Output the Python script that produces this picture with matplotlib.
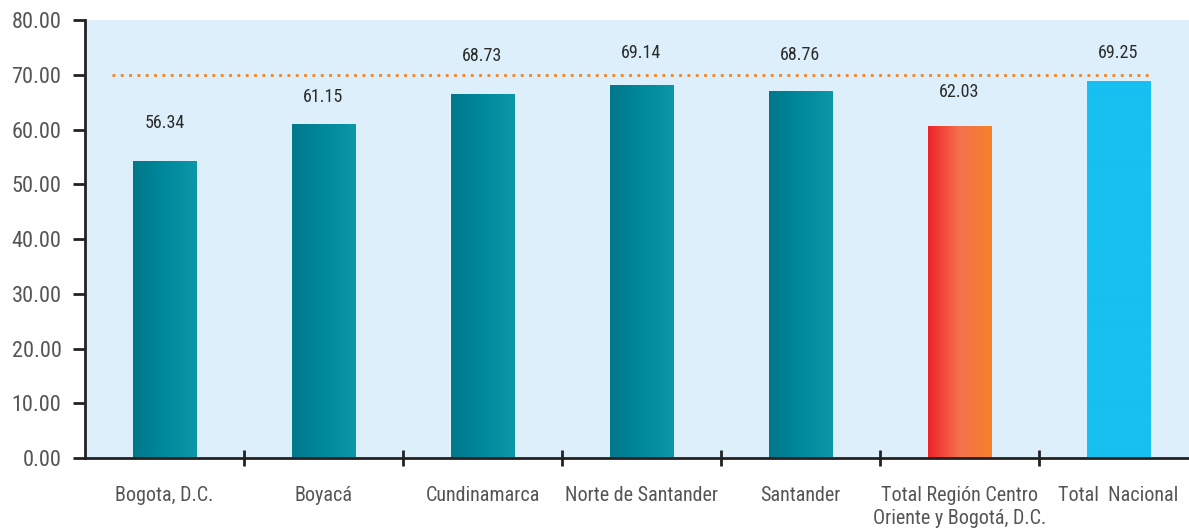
import numpy as np
import matplotlib.pyplot as plt
from matplotlib.colors import LinearSegmentedColormap

plt.rcParams['font.family'] = ['Roboto Condensed', 'Liberation Sans Narrow', 'DejaVu Sans']

categories = ['Bogota, D.C.', 'Boyacá', 'Cundinamarca', 'Norte de Santander',
              'Santander', 'Total Región Centro\nOriente y Bogotá, D.C.', 'Total  Nacional']
bar_values = [54.3, 61.0, 66.5, 68.2, 67.1, 60.6, 68.9]
label_values = [56.34, 61.15, 68.73, 69.14, 68.76, 62.03, 69.25]
reference_line = 70
yticks = [0, 10, 20, 30, 40, 50, 60, 70, 80]

teal = LinearSegmentedColormap.from_list('teal', ['#00788A', '#00899C', '#0B98A8'])
region = LinearSegmentedColormap.from_list('region', ['#EE2329', '#F4724F', '#F5822A'])
nacional = LinearSegmentedColormap.from_list('nac', ['#17C0F0', '#17C0F0'])
cmaps = [teal] * 5 + [region, nacional]

fig = plt.figure(figsize=(11.89, 5.31), dpi=100)
ax = fig.add_axes([0.0715, 0.137, 0.936, 0.825])
ax.set_facecolor('#DCEFFA')

x = np.arange(len(categories))
bars = ax.bar(x, bar_values, width=0.40, color='none', zorder=2)
grad = np.linspace(0, 1, 256).reshape(1, -1)
for b, cm in zip(bars, cmaps):
    x0, w, h = b.get_x(), b.get_width(), b.get_height()
    im = ax.imshow(grad, cmap=cm, aspect='auto', extent=[x0, x0 + w, 0, h], zorder=2)
    im.set_clip_path(b)

for xi, v in zip(x, label_values):
    ax.text(xi, v + 4.8, f'{v:.2f}', ha='center', va='center', fontsize=13, color='#2b2b2b')

ax.hlines(reference_line, -0.33, 6.21, colors='#F58220', linestyles=(0, (1, 2)), linewidth=2, zorder=3)

ax.set_xlim(-0.5, 6.5)
ax.set_ylim(0, 80)
ax.set_yticks(yticks)
ax.set_yticklabels([f'{t:.2f}' for t in yticks], fontsize=16, color='#555555')
ax.set_xticks(x)
ax.set_xticklabels(categories, fontsize=14.5, color='#555555', va='top', linespacing=1.25)
ax.tick_params(axis='x', length=0, pad=20)
ax.set_xticks(np.arange(0.5, 6.5, 1), minor=True)
ax.tick_params(axis='x', which='minor', direction='inout', length=12, width=2, color='#222222')
ax.tick_params(axis='y', direction='out', length=9, width=2, color='#222222', pad=8)

for s in ['top', 'right']:
    ax.spines[s].set_visible(False)
for s in ['left', 'bottom']:
    ax.spines[s].set_linewidth(2)
    ax.spines[s].set_color('#222222')

fig.savefig('out.png', dpi=100)
